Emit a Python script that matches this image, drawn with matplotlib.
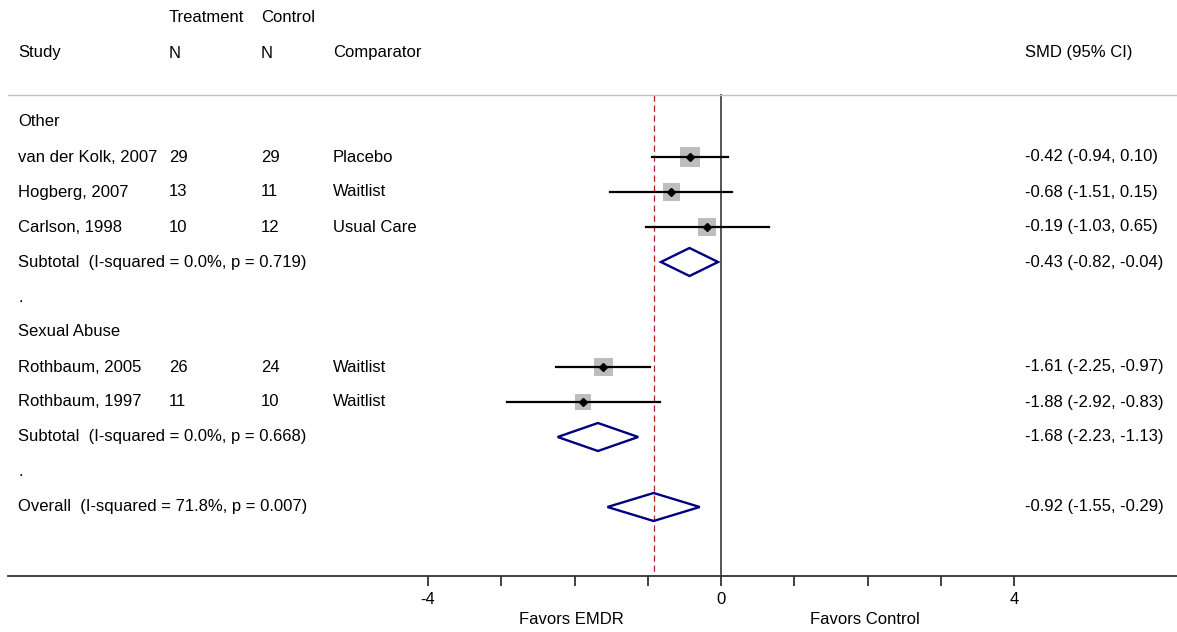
import matplotlib
matplotlib.use("Agg")
import matplotlib.pyplot as plt
from matplotlib.patches import Rectangle, Polygon
import numpy as np

plt.rcParams['font.family'] = ['Liberation Sans', 'DejaVu Sans']

# ---- data ----
studies = ["van der Kolk, 2007", "Hogberg, 2007", "Carlson, 1998",
           "Rothbaum, 2005", "Rothbaum, 1997"]
groups = ["Other", "Other", "Other", "Sexual Abuse", "Sexual Abuse"]
treat_n = [29, 13, 10, 26, 11]
ctrl_n = [29, 11, 12, 24, 10]
comparator = ["Placebo", "Waitlist", "Usual Care", "Waitlist", "Waitlist"]
smd = [-0.42, -0.68, -0.19, -1.61, -1.88]
lo = [-0.94, -1.51, -1.03, -2.25, -2.92]
hi = [0.10, 0.15, 0.65, -0.97, -0.83]
weight = [20.0, 14.8, 16.0, 18.0, 13.5]   # relative box weights (estimated)

sub_names = ["Other", "Sexual Abuse"]
sub_labels = ["Subtotal  (I-squared = 0.0%, p = 0.719)",
              "Subtotal  (I-squared = 0.0%, p = 0.668)"]
sub_smd = [-0.43, -1.68]
sub_lo = [-0.82, -2.23]
sub_hi = [-0.04, -1.13]

overall_label = "Overall  (I-squared = 71.8%, p = 0.007)"
overall_smd = -0.92
overall_lo = -1.55
overall_hi = -0.29

xticks = [-4, -3, -2, -1, 0, 1, 2, 3, 4]
xtick_labels = ["-4", "", "", "", "0", "", "", "", "4"]

# ---- layout ----
W, H = 1177, 632
fig = plt.figure(figsize=(W / 100, H / 100), dpi=100)
px_per_unit = 73.25
x0_px, axis_y = 721, 576
left_px = 8
ax = fig.add_axes([left_px / W, (H - axis_y) / H, 1 - left_px / W, axis_y / H])
ax.set_xlim(-(x0_px - left_px) / px_per_unit, (W - x0_px) / px_per_unit)
ax.set_ylim(axis_y, 0)

fs = 12
row0, step = 122, 35

def px2x(p):
    return (p - x0_px) / px_per_unit

col_study = px2x(18)
col_tn = px2x(169)
col_cn = px2x(261)
col_comp = px2x(333)
col_est = px2x(1025)

def txt(x, y, s, **kw):
    ax.text(x, y, s, fontsize=fs, va='center', ha=kw.pop('ha', 'left'),
            clip_on=False, **kw)

# headers
txt(col_tn, 18, "Treatment")
txt(col_cn, 18, "Control")
txt(col_study, 53, "Study")
txt(col_tn, 53, "N")
txt(col_cn, 53, "N")
txt(col_comp, 53, "Comparator")
txt(col_est, 53, "SMD (95% CI)")
ax.plot(ax.get_xlim(), [95, 95], color='#c0c0c0', lw=1, clip_on=False)

# reference lines
ax.plot([0, 0], [95, axis_y], color='#555555', lw=1.4, zorder=1)
ax.plot([overall_smd, overall_smd], [95, axis_y], color='#b22222', lw=0.9,
        ls=(0, (5, 3)), zorder=1)

def fmt(e, l, h):
    return f"{e:.2f} ({l:.2f}, {h:.2f})"

def diamond(y, e, l, h):
    hh = 14
    ax.add_patch(Polygon([[l, y], [e, y - hh], [h, y], [e, y + hh]],
                         closed=True, fill=False, edgecolor='#000080',
                         lw=1.7, zorder=4))

row = 0
for gi, g in enumerate(sub_names):
    y = row0 + row * step
    txt(col_study, y, g)
    row += 1
    for i in range(len(studies)):
        if groups[i] != g:
            continue
        y = row0 + row * step
        txt(col_study, y, studies[i])
        txt(col_tn, y, str(treat_n[i]))
        txt(col_cn, y, str(ctrl_n[i]))
        txt(col_comp, y, comparator[i])
        txt(col_est, y, fmt(smd[i], lo[i], hi[i]))
        side_px = 4.45 * np.sqrt(weight[i])
        ax.add_patch(Rectangle((smd[i] - side_px / 2 / px_per_unit, y - side_px / 2),
                               side_px / px_per_unit, side_px,
                               facecolor='#bdbdbd', edgecolor='none', zorder=2))
        ax.plot([lo[i], hi[i]], [y, y], color='black', lw=1.6, zorder=3)
        ax.plot(smd[i], y, marker='D', ms=4, color='black', zorder=5)
        row += 1
    y = row0 + row * step
    txt(col_study, y, sub_labels[gi])
    txt(col_est, y, fmt(sub_smd[gi], sub_lo[gi], sub_hi[gi]))
    diamond(y, sub_smd[gi], sub_lo[gi], sub_hi[gi])
    row += 1
    y = row0 + row * step
    txt(col_study, y, ".")
    row += 1

y = row0 + row * step
txt(col_study, y, overall_label)
txt(col_est, y, fmt(overall_smd, overall_lo, overall_hi))
diamond(y, overall_smd, overall_lo, overall_hi)

# axis
for s in ['top', 'left', 'right']:
    ax.spines[s].set_visible(False)
ax.spines['bottom'].set_color('#333333')
ax.spines['bottom'].set_linewidth(1.3)
ax.set_yticks([])
ax.set_xticks(xticks)
ax.set_xticklabels(xtick_labels, fontsize=fs)
ax.tick_params(axis='x', direction='out', length=7.5, width=1.3,
               color='#333333', pad=4)

txt(px2x(571), 620, "Favors EMDR", ha='center')
txt(px2x(865), 620, "Favors Control", ha='center')

fig.savefig("out.png", dpi=100)
